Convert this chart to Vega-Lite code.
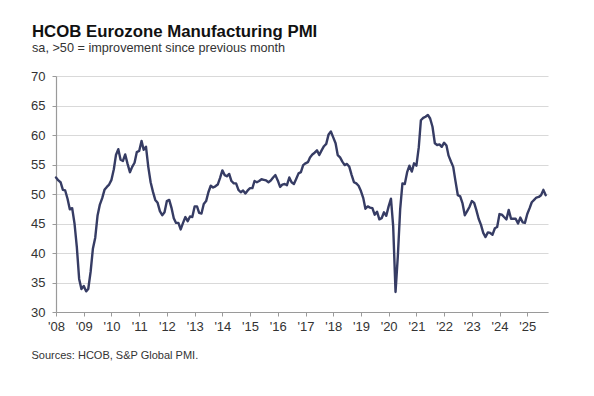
{
  "$schema": "https://vega.github.io/schema/vega-lite/v6.json",
  "width": 492,
  "height": 236,
  "autosize": {"type": "none"},
  "padding": {"left": 56, "top": 76, "right": 46, "bottom": 84},
  "background": "white",
  "title": {
    "text": "HCOB Eurozone Manufacturing PMI",
    "subtitle": "sa, >50 = improvement since previous month",
    "anchor": "start",
    "frame": "group",
    "dx": -24,
    "offset": 15,
    "font": "Liberation Sans",
    "fontSize": 16.8,
    "fontWeight": "bold",
    "color": "#111111",
    "subtitleFont": "Liberation Sans",
    "subtitleFontSize": 12.7,
    "subtitleColor": "#333333",
    "subtitlePadding": 2
  },
  "config": {
    "view": {"stroke": null},
    "axis": {"labelFont": "Liberation Sans", "titleFont": "Liberation Sans"}
  },
  "data": {
    "values": [
      {"date": "2008-01-01", "pmi": 52.8}, {"date": "2008-02-01", "pmi": 52.3}, {"date": "2008-03-01", "pmi": 52.0}, {"date": "2008-04-01", "pmi": 50.7}, {"date": "2008-05-01", "pmi": 50.6}, {"date": "2008-06-01", "pmi": 49.2}, {"date": "2008-07-01", "pmi": 47.4}, {"date": "2008-08-01", "pmi": 47.6}, {"date": "2008-09-01", "pmi": 45.0}, {"date": "2008-10-01", "pmi": 41.1}, {"date": "2008-11-01", "pmi": 35.6}, {"date": "2008-12-01", "pmi": 33.9},
      {"date": "2009-01-01", "pmi": 34.4}, {"date": "2009-02-01", "pmi": 33.5}, {"date": "2009-03-01", "pmi": 33.9}, {"date": "2009-04-01", "pmi": 36.8}, {"date": "2009-05-01", "pmi": 40.7}, {"date": "2009-06-01", "pmi": 42.6}, {"date": "2009-07-01", "pmi": 46.3}, {"date": "2009-08-01", "pmi": 48.2}, {"date": "2009-09-01", "pmi": 49.3}, {"date": "2009-10-01", "pmi": 50.7}, {"date": "2009-11-01", "pmi": 51.2}, {"date": "2009-12-01", "pmi": 51.6},
      {"date": "2010-01-01", "pmi": 52.4}, {"date": "2010-02-01", "pmi": 54.2}, {"date": "2010-03-01", "pmi": 56.6}, {"date": "2010-04-01", "pmi": 57.6}, {"date": "2010-05-01", "pmi": 55.8}, {"date": "2010-06-01", "pmi": 55.6}, {"date": "2010-07-01", "pmi": 56.7}, {"date": "2010-08-01", "pmi": 55.1}, {"date": "2010-09-01", "pmi": 53.7}, {"date": "2010-10-01", "pmi": 54.6}, {"date": "2010-11-01", "pmi": 55.3}, {"date": "2010-12-01", "pmi": 57.1},
      {"date": "2011-01-01", "pmi": 57.3}, {"date": "2011-02-01", "pmi": 59.0}, {"date": "2011-03-01", "pmi": 57.5}, {"date": "2011-04-01", "pmi": 58.0}, {"date": "2011-05-01", "pmi": 54.6}, {"date": "2011-06-01", "pmi": 52.0}, {"date": "2011-07-01", "pmi": 50.4}, {"date": "2011-08-01", "pmi": 49.0}, {"date": "2011-09-01", "pmi": 48.5}, {"date": "2011-10-01", "pmi": 47.1}, {"date": "2011-11-01", "pmi": 46.4}, {"date": "2011-12-01", "pmi": 46.9},
      {"date": "2012-01-01", "pmi": 48.8}, {"date": "2012-02-01", "pmi": 49.0}, {"date": "2012-03-01", "pmi": 47.7}, {"date": "2012-04-01", "pmi": 45.9}, {"date": "2012-05-01", "pmi": 45.1}, {"date": "2012-06-01", "pmi": 45.1}, {"date": "2012-07-01", "pmi": 44.0}, {"date": "2012-08-01", "pmi": 45.1}, {"date": "2012-09-01", "pmi": 46.1}, {"date": "2012-10-01", "pmi": 45.4}, {"date": "2012-11-01", "pmi": 46.2}, {"date": "2012-12-01", "pmi": 46.1},
      {"date": "2013-01-01", "pmi": 47.9}, {"date": "2013-02-01", "pmi": 47.9}, {"date": "2013-03-01", "pmi": 46.8}, {"date": "2013-04-01", "pmi": 46.7}, {"date": "2013-05-01", "pmi": 48.3}, {"date": "2013-06-01", "pmi": 48.8}, {"date": "2013-07-01", "pmi": 50.3}, {"date": "2013-08-01", "pmi": 51.4}, {"date": "2013-09-01", "pmi": 51.1}, {"date": "2013-10-01", "pmi": 51.3}, {"date": "2013-11-01", "pmi": 51.6}, {"date": "2013-12-01", "pmi": 52.7},
      {"date": "2014-01-01", "pmi": 54.0}, {"date": "2014-02-01", "pmi": 53.2}, {"date": "2014-03-01", "pmi": 53.0}, {"date": "2014-04-01", "pmi": 53.4}, {"date": "2014-05-01", "pmi": 52.2}, {"date": "2014-06-01", "pmi": 51.8}, {"date": "2014-07-01", "pmi": 51.8}, {"date": "2014-08-01", "pmi": 50.7}, {"date": "2014-09-01", "pmi": 50.3}, {"date": "2014-10-01", "pmi": 50.6}, {"date": "2014-11-01", "pmi": 50.1}, {"date": "2014-12-01", "pmi": 50.6},
      {"date": "2015-01-01", "pmi": 51.0}, {"date": "2015-02-01", "pmi": 51.0}, {"date": "2015-03-01", "pmi": 52.2}, {"date": "2015-04-01", "pmi": 52.0}, {"date": "2015-05-01", "pmi": 52.2}, {"date": "2015-06-01", "pmi": 52.5}, {"date": "2015-07-01", "pmi": 52.4}, {"date": "2015-08-01", "pmi": 52.3}, {"date": "2015-09-01", "pmi": 52.0}, {"date": "2015-10-01", "pmi": 52.3}, {"date": "2015-11-01", "pmi": 52.8}, {"date": "2015-12-01", "pmi": 53.2},
      {"date": "2016-01-01", "pmi": 52.3}, {"date": "2016-02-01", "pmi": 51.2}, {"date": "2016-03-01", "pmi": 51.6}, {"date": "2016-04-01", "pmi": 51.7}, {"date": "2016-05-01", "pmi": 51.5}, {"date": "2016-06-01", "pmi": 52.8}, {"date": "2016-07-01", "pmi": 52.0}, {"date": "2016-08-01", "pmi": 51.7}, {"date": "2016-09-01", "pmi": 52.6}, {"date": "2016-10-01", "pmi": 53.5}, {"date": "2016-11-01", "pmi": 53.7}, {"date": "2016-12-01", "pmi": 54.9},
      {"date": "2017-01-01", "pmi": 55.2}, {"date": "2017-02-01", "pmi": 55.4}, {"date": "2017-03-01", "pmi": 56.2}, {"date": "2017-04-01", "pmi": 56.7}, {"date": "2017-05-01", "pmi": 57.0}, {"date": "2017-06-01", "pmi": 57.4}, {"date": "2017-07-01", "pmi": 56.6}, {"date": "2017-08-01", "pmi": 57.4}, {"date": "2017-09-01", "pmi": 58.1}, {"date": "2017-10-01", "pmi": 58.5}, {"date": "2017-11-01", "pmi": 60.1}, {"date": "2017-12-01", "pmi": 60.6},
      {"date": "2018-01-01", "pmi": 59.6}, {"date": "2018-02-01", "pmi": 58.6}, {"date": "2018-03-01", "pmi": 56.6}, {"date": "2018-04-01", "pmi": 56.2}, {"date": "2018-05-01", "pmi": 55.5}, {"date": "2018-06-01", "pmi": 54.9}, {"date": "2018-07-01", "pmi": 55.1}, {"date": "2018-08-01", "pmi": 54.6}, {"date": "2018-09-01", "pmi": 53.2}, {"date": "2018-10-01", "pmi": 52.0}, {"date": "2018-11-01", "pmi": 51.8}, {"date": "2018-12-01", "pmi": 51.4},
      {"date": "2019-01-01", "pmi": 50.5}, {"date": "2019-02-01", "pmi": 49.3}, {"date": "2019-03-01", "pmi": 47.5}, {"date": "2019-04-01", "pmi": 47.9}, {"date": "2019-05-01", "pmi": 47.7}, {"date": "2019-06-01", "pmi": 47.6}, {"date": "2019-07-01", "pmi": 46.5}, {"date": "2019-08-01", "pmi": 47.0}, {"date": "2019-09-01", "pmi": 45.7}, {"date": "2019-10-01", "pmi": 45.9}, {"date": "2019-11-01", "pmi": 46.9}, {"date": "2019-12-01", "pmi": 46.3},
      {"date": "2020-01-01", "pmi": 47.9}, {"date": "2020-02-01", "pmi": 49.2}, {"date": "2020-03-01", "pmi": 44.5}, {"date": "2020-04-01", "pmi": 33.4}, {"date": "2020-05-01", "pmi": 39.4}, {"date": "2020-06-01", "pmi": 47.4}, {"date": "2020-07-01", "pmi": 51.8}, {"date": "2020-08-01", "pmi": 51.7}, {"date": "2020-09-01", "pmi": 53.7}, {"date": "2020-10-01", "pmi": 54.8}, {"date": "2020-11-01", "pmi": 53.8}, {"date": "2020-12-01", "pmi": 55.2},
      {"date": "2021-01-01", "pmi": 54.8}, {"date": "2021-02-01", "pmi": 57.9}, {"date": "2021-03-01", "pmi": 62.5}, {"date": "2021-04-01", "pmi": 62.9}, {"date": "2021-05-01", "pmi": 63.1}, {"date": "2021-06-01", "pmi": 63.4}, {"date": "2021-07-01", "pmi": 62.8}, {"date": "2021-08-01", "pmi": 61.4}, {"date": "2021-09-01", "pmi": 58.6}, {"date": "2021-10-01", "pmi": 58.3}, {"date": "2021-11-01", "pmi": 58.4}, {"date": "2021-12-01", "pmi": 58.0},
      {"date": "2022-01-01", "pmi": 58.7}, {"date": "2022-02-01", "pmi": 58.2}, {"date": "2022-03-01", "pmi": 56.5}, {"date": "2022-04-01", "pmi": 55.5}, {"date": "2022-05-01", "pmi": 54.6}, {"date": "2022-06-01", "pmi": 52.1}, {"date": "2022-07-01", "pmi": 49.8}, {"date": "2022-08-01", "pmi": 49.6}, {"date": "2022-09-01", "pmi": 48.4}, {"date": "2022-10-01", "pmi": 46.4}, {"date": "2022-11-01", "pmi": 47.1}, {"date": "2022-12-01", "pmi": 47.8},
      {"date": "2023-01-01", "pmi": 48.8}, {"date": "2023-02-01", "pmi": 48.5}, {"date": "2023-03-01", "pmi": 47.3}, {"date": "2023-04-01", "pmi": 45.8}, {"date": "2023-05-01", "pmi": 44.8}, {"date": "2023-06-01", "pmi": 43.4}, {"date": "2023-07-01", "pmi": 42.7}, {"date": "2023-08-01", "pmi": 43.5}, {"date": "2023-09-01", "pmi": 43.4}, {"date": "2023-10-01", "pmi": 43.1}, {"date": "2023-11-01", "pmi": 44.2}, {"date": "2023-12-01", "pmi": 44.4},
      {"date": "2024-01-01", "pmi": 46.6}, {"date": "2024-02-01", "pmi": 46.5}, {"date": "2024-03-01", "pmi": 46.1}, {"date": "2024-04-01", "pmi": 45.7}, {"date": "2024-05-01", "pmi": 47.3}, {"date": "2024-06-01", "pmi": 45.8}, {"date": "2024-07-01", "pmi": 45.8}, {"date": "2024-08-01", "pmi": 45.8}, {"date": "2024-09-01", "pmi": 45.0}, {"date": "2024-10-01", "pmi": 46.0}, {"date": "2024-11-01", "pmi": 45.2}, {"date": "2024-12-01", "pmi": 45.1},
      {"date": "2025-01-01", "pmi": 46.6}, {"date": "2025-02-01", "pmi": 47.6}, {"date": "2025-03-01", "pmi": 48.6}, {"date": "2025-04-01", "pmi": 49.0}, {"date": "2025-05-01", "pmi": 49.4}, {"date": "2025-06-01", "pmi": 49.5}, {"date": "2025-07-01", "pmi": 49.8}, {"date": "2025-08-01", "pmi": 50.7}, {"date": "2025-09-01", "pmi": 49.8}
    ]
  },
  "mark": {"type": "line", "color": "#363c64", "strokeWidth": 2.4, "strokeJoin": "round", "strokeCap": "round"},
  "encoding": {
    "x": {
      "field": "date",
      "type": "temporal",
      "scale": {"domain": [{"year": 2008, "month": 1, "date": 1}, {"year": 2025, "month": 10, "date": 1}], "nice": false},
      "axis": {
        "format": "'%y",
        "tickCount": {"interval": "year", "step": 1},
        "grid": false,
        "domainColor": "#9a9a9a",
        "domainWidth": 1.2,
        "tickColor": "#9a9a9a",
        "tickSize": 4,
        "labelFontSize": 13,
        "labelColor": "#333333",
        "labelPadding": 4,
        "labelFlush": false,
        "labelOverlap": false,
        "title": "Sources: HCOB, S&P Global PMI.",
        "titleFontSize": 11,
        "titleFontWeight": "normal",
        "titleColor": "#333333",
        "titleAnchor": "start",
        "titleAlign": "left",
        "titleBaseline": "alphabetic",
        "titleX": -25,
        "titleY": 46
      }
    },
    "y": {
      "field": "pmi",
      "type": "quantitative",
      "scale": {"domain": [30, 70], "nice": false, "zero": false},
      "axis": {
        "values": [30, 35, 40, 45, 50, 55, 60, 65, 70],
        "title": null,
        "grid": true,
        "gridColor": "#d9d9d9",
        "gridWidth": 1,
        "domainColor": "#9a9a9a",
        "domainWidth": 1.2,
        "tickColor": "#9a9a9a",
        "tickSize": 4,
        "labelFontSize": 13,
        "labelColor": "#333333",
        "labelPadding": 7
      }
    }
  }
}
